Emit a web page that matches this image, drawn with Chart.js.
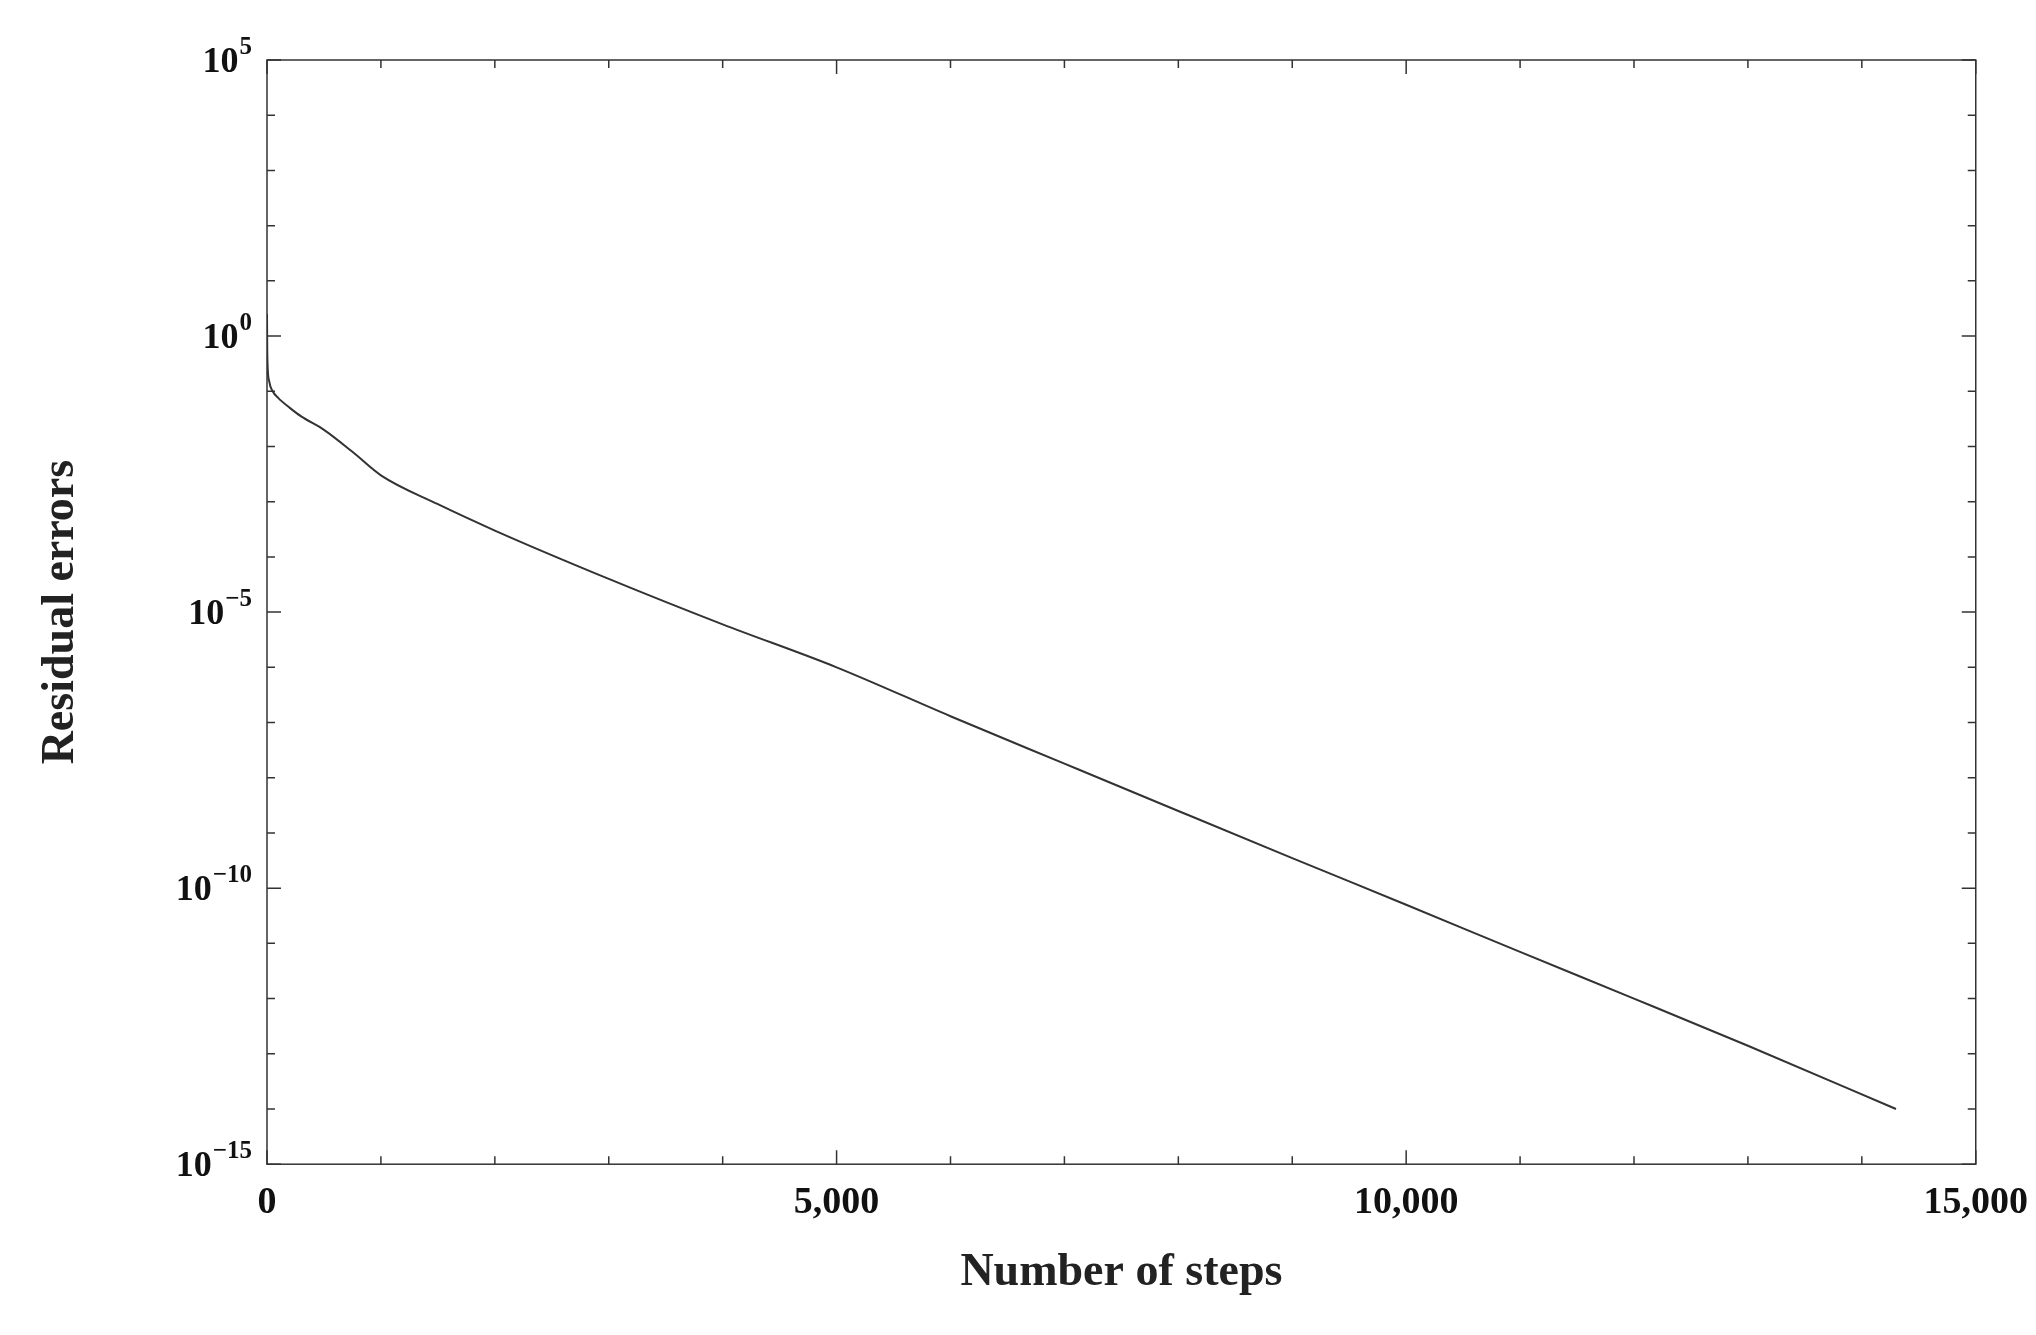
<!DOCTYPE html>
<html>
<head>
<meta charset="utf-8">
<script src="https://cdn.jsdelivr.net/npm/chart.js@4"></script>
<style>
  body { margin: 0; background: #fff; }
  #wrap { width: 2036px; height: 1335px; }
</style>
</head>
<body>
<div id="wrap"><canvas id="chart1" width="2036" height="1335"></canvas></div>
<script>
// values
const steps = [0, 2, 5, 20, 50, 100, 200, 300, 500, 750, 1000, 1500, 2000, 3000, 4000, 5000, 6000, 7000, 8000, 9000, 10000, 11000, 12000, 13000, 14300];
const residuals = [2.5, 0.6, 0.3, 0.15, 0.1, 0.075, 0.05, 0.035, 0.02, 0.008, 0.003, 0.0009, 0.0003, 0.00004, 0.000006, 1e-6, 1.3e-7, 1.8e-8, 2.5e-9, 3.5e-10, 5e-11, 7e-12, 1e-12, 1.4e-13, 1e-14];
const xTicks = [0, 5000, 10000, 15000];
const yLabelExps = [-15, -10, -5, 0, 5];
const yDecades = [];
for (let e = -15; e <= 5; e++) yDecades.push(e);

// inward tick marks on all four sides, and the 10^n labels drawn with a real superscript
const frameTicks = {
    id: 'frameTicks',
    afterDraw(chart) {
        const ctx = chart.ctx;
        const a = chart.chartArea;
        const x = chart.scales.x, y = chart.scales.y;
        ctx.save();
        ctx.strokeStyle = '#333';
        ctx.lineWidth = 1.5;
        ctx.strokeRect(a.left, a.top, a.right - a.left, a.bottom - a.top);
        ctx.beginPath();
        yDecades.forEach(function (e) {
            const py = y.getPixelForValue(Math.pow(10, e));
            const len = e % 5 === 0 ? 14 : 8;
            ctx.moveTo(a.left, py); ctx.lineTo(a.left + len, py);
            ctx.moveTo(a.right, py); ctx.lineTo(a.right - len, py);
        });
        for (let v = 0; v <= 15000; v += 1000) {
            const px = x.getPixelForValue(v);
            const len = v % 5000 === 0 ? 14 : 8;
            ctx.moveTo(px, a.bottom); ctx.lineTo(px, a.bottom - len);
            ctx.moveTo(px, a.top); ctx.lineTo(px, a.top + len);
        }
        ctx.stroke();

        ctx.fillStyle = '#111';
        ctx.textBaseline = 'alphabetic';
        ctx.textAlign = 'left';
        const baseFont = 'bold 36px "Liberation Serif"';
        const supFont = 'bold 25px "Liberation Serif"';
        yLabelExps.forEach(function (e) {
            const py = y.getPixelForValue(Math.pow(10, e));
            const exp = e < 0 ? '\u2212' + Math.abs(e) : String(e);
            ctx.font = supFont;
            const we = ctx.measureText(exp).width;
            ctx.font = baseFont;
            const wb = ctx.measureText('10').width;
            const x0 = a.left - 16 - we - wb;
            ctx.fillText('10', x0, py + 12);
            ctx.font = supFont;
            ctx.fillText(exp, x0 + wb + 1, py - 6);
        });
        ctx.restore();
    }
};

const ctx = document.getElementById('chart1').getContext('2d');
new Chart(ctx, {
    type: 'line',
    data: {
        datasets: [{
            data: steps.map((s, i) => ({x: s, y: residuals[i]})),
            borderColor: '#333',
            borderWidth: 2,
            pointRadius: 0,
            cubicInterpolationMode: 'monotone',
            fill: false
        }]
    },
    options: {
        responsive: false,
        animation: false,
        layout: {padding: {top: 60, right: 50, bottom: 30, left: 30}},
        plugins: {legend: {display: false}, tooltip: {enabled: false}},
        scales: {
            x: {
                type: 'linear',
                min: 0, max: 15000,
                afterBuildTicks: function (s) { s.ticks = xTicks.map(v => ({value: v})); },
                ticks: {
                    color: '#111',
                    font: {family: 'Liberation Serif', size: 38, weight: 'bold'},
                    maxRotation: 0,
                    padding: 8,
                    callback: v => v.toLocaleString('en-US')
                },
                grid: {display: false},
                border: {display: false},
                title: {display: true, text: 'Number of steps', color: '#222',
                    font: {family: 'Liberation Serif', size: 46, weight: 'bold'}, padding: {top: 12}}
            },
            y: {
                type: 'logarithmic',
                min: 1e-15, max: 1e5,
                afterFit: function (s) { s.width = 237; },
                ticks: {display: false},
                grid: {display: false},
                border: {display: false},
                title: {display: true, text: 'Residual errors', color: '#222',
                    font: {family: 'Liberation Serif', size: 46, weight: 'bold'}, padding: {bottom: 4}}
            }
        }
    },
    plugins: [frameTicks]
});
</script>
</body>
</html>
